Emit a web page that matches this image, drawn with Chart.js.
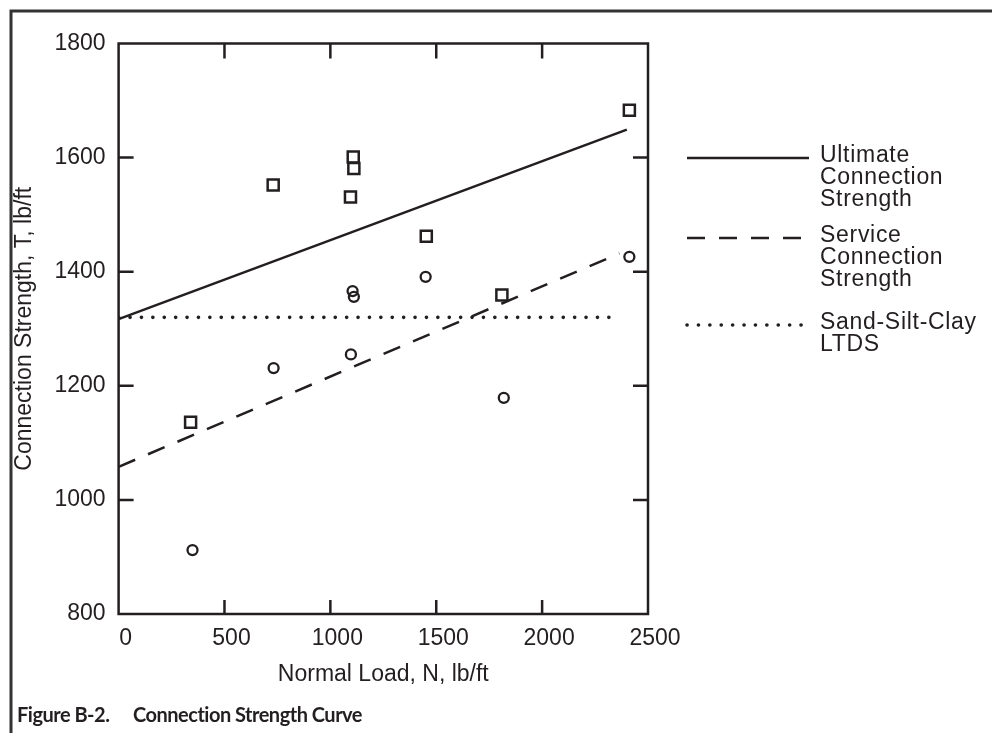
<!DOCTYPE html>
<html>
<head>
<meta charset="utf-8">
<script src="https://cdn.jsdelivr.net/npm/chart.js@4"></script>
<style>
body{margin:0;background:#fff;}
#wrap{width:992px;height:733px;}
</style>
</head>
<body>
<div id="wrap"><canvas id="strengthChart" width="992" height="733"></canvas></div>
<script>

// test points, normal load (lb/ft) vs connection strength (lb/ft)
const squareLoad = [340, 730, 1095, 1108, 1111, 1453, 1810, 2412];
const squareStrength = [1136, 1552, 1531, 1601, 1581, 1462, 1359, 1683];

const circleLoad = [349, 732, 1097, 1105, 1111, 1450, 1819, 2412];
const circleStrength = [912, 1231, 1255, 1366, 1356, 1391, 1179, 1426];

// fitted lines
const ultimateLoad = [0, 2400];
const ultimateStrength = [1317, 1649];

const serviceLoad = [0, 2365];
const serviceStrength = [1058, 1432];

const ltdsLoad = [0, 2340];
const ltdsStrength = [1320, 1320];

const xTicks = [0, 500, 1000, 1500, 2000, 2500];
const yTicks = [800, 1000, 1200, 1400, 1600, 1800];

const legendLabels = [
["Ultimate","Connection","Strength"],
["Service","Connection","Strength"],
["Sand-Silt-Clay","LTDS"]
];

const ink = "#231f20";
const fontFamily = "'Liberation Sans', Arial, Helvetica, sans-serif";

function pairs(xs, ys){
return xs.map((x,i)=>({x:x, y:ys[i]}));
}

// plot frame with inward tick marks on all four sides
const framePlugin = {
id:"frame",
afterDatasetsDraw(chart){
const ctx = chart.ctx;
const a = chart.chartArea;
const xs = chart.scales.x;
const ys = chart.scales.y;
ctx.save();
ctx.strokeStyle = ink;
ctx.lineWidth = 2.5;
ctx.lineCap = "butt";
ctx.strokeRect(a.left, a.top, a.right-a.left, a.bottom-a.top);
xTicks.slice(1,-1).forEach(v=>{
const px = xs.getPixelForValue(v);
ctx.beginPath();
ctx.moveTo(px, a.bottom); ctx.lineTo(px, a.bottom-14);
ctx.moveTo(px, a.top); ctx.lineTo(px, a.top+15);
ctx.stroke();
});
yTicks.slice(1,-1).forEach(v=>{
const py = ys.getPixelForValue(v);
ctx.beginPath();
ctx.moveTo(a.left, py); ctx.lineTo(a.left+15, py);
ctx.moveTo(a.right, py); ctx.lineTo(a.right-15, py);
ctx.stroke();
});
ctx.restore();
}
};

// legend on the right plus the figure border and caption
const legendPlugin = {
id:"sideLegend",
afterDraw(chart){
const ctx = chart.ctx;
const lines = chart.data.datasets.slice(2);
const rows = [158, 238, 325];
ctx.save();
lines.forEach((ds,i)=>{
ctx.beginPath();
ctx.strokeStyle = ds.borderColor;
ctx.lineWidth = ds.borderWidth;
ctx.lineCap = ds.borderCapStyle || "butt";
ctx.setLineDash(ds.borderDash || []);
ctx.moveTo(687, rows[i]);
ctx.lineTo(809, rows[i]);
ctx.stroke();
ctx.setLineDash([]);
ctx.fillStyle = ink;
ctx.font = "23px " + fontFamily;
ctx.letterSpacing = "0.7px";
ctx.textBaseline = "alphabetic";
ctx.textAlign = "left";
legendLabels[i].forEach((t,j)=>{
ctx.fillText(t, 820, rows[i] + 4 + j*22);
});
ctx.letterSpacing = "0px";
});

// figure border
ctx.strokeStyle = "#333";
ctx.lineWidth = 3;
ctx.lineCap = "butt";
ctx.beginPath();
ctx.moveTo(11, 733);
ctx.lineTo(11, 11);
ctx.lineTo(992, 11);
ctx.stroke();

// caption
ctx.fillStyle = ink;
ctx.font = "bold 20px Lato, 'Open Sans', sans-serif";
ctx.letterSpacing = "-0.5px";
ctx.fillText("Figure B-2.", 17, 722);
ctx.fillText("Connection Strength Curve", 133, 722);
ctx.letterSpacing = "0px";
ctx.restore();
}
};

Chart.defaults.font.family = fontFamily;
Chart.defaults.color = ink;

new Chart(document.getElementById("strengthChart"),{
type:"scatter",
data:{
datasets:[
{
label:"Test, ultimate",
data:pairs(squareLoad, squareStrength),
pointStyle:"rect",
pointRadius:7.8,
pointBorderWidth:2.5,
pointBorderColor:ink,
pointBackgroundColor:"rgba(0,0,0,0)",
showLine:false
},
{
label:"Test, service",
data:pairs(circleLoad, circleStrength),
pointStyle:"circle",
pointRadius:5,
pointBorderWidth:2.3,
pointBorderColor:ink,
pointBackgroundColor:"rgba(0,0,0,0)",
showLine:false
},
{
label:"Ultimate Connection Strength",
data:pairs(ultimateLoad, ultimateStrength),
showLine:true,
borderColor:ink,
borderWidth:2.5,
pointRadius:0
},
{
label:"Service Connection Strength",
data:pairs(serviceLoad, serviceStrength),
showLine:true,
borderColor:ink,
borderWidth:2.5,
borderDash:[18,14],
pointRadius:0
},
{
label:"Sand-Silt-Clay LTDS",
data:pairs(ltdsLoad, ltdsStrength),
showLine:true,
borderColor:ink,
borderWidth:3.6,
borderDash:[0.1,11.3],
borderCapStyle:"round",
pointRadius:0
}
]
},
options:{
responsive:false,
animation:false,
devicePixelRatio:1,
layout:{padding:{left:0,top:43.5,right:344,bottom:0}},
plugins:{
legend:{display:false},
tooltip:{enabled:false}
},
scales:{
x:{
type:"linear",
min:xTicks[0],
max:xTicks[xTicks.length-1],
afterBuildTicks:s=>{s.ticks = xTicks.map(v=>({value:v}));},
afterFit:s=>{s.height = 733-614;},
grid:{display:false},
border:{display:false},
ticks:{font:{size:23},padding:3,labelOffset:7,maxRotation:0,callback:v=>String(v)},
title:{display:true,text:"Normal Load, N, lb/ft",font:{size:23},padding:{bottom:45}}
},
y:{
type:"linear",
min:yTicks[0],
max:yTicks[yTicks.length-1],
afterBuildTicks:s=>{s.ticks = yTicks.map(v=>({value:v}));},
afterFit:s=>{s.width = 118.6;},
grid:{display:false},
border:{display:false},
ticks:{font:{size:23},padding:5,callback:v=>String(v)},
title:{display:true,text:"Connection Strength, T, lb/ft",font:{size:23},padding:{top:11}}
}
}
},
plugins:[framePlugin, legendPlugin]
});

</script>
</body>
</html>
